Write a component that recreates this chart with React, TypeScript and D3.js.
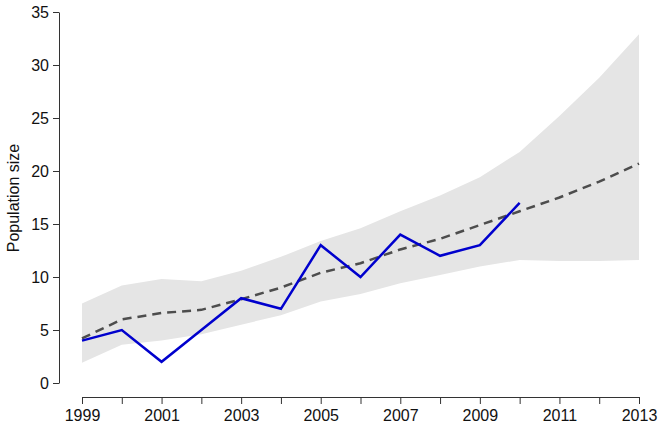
import React, { useEffect, useRef } from 'react';
import * as d3 from 'd3';

const years = [1999, 2000, 2001, 2002, 2003, 2004, 2005, 2006, 2007, 2008, 2009, 2010, 2011, 2012, 2013];
const observed = [4, 5, 2, 5, 8, 7, 13, 10, 14, 12, 13, 17];
const predicted = [4.2, 6.0, 6.6, 6.9, 7.9, 9.0, 10.4, 11.3, 12.6, 13.6, 14.9, 16.2, 17.5, 19.0, 20.7];
const upper = [7.5, 9.2, 9.8, 9.6, 10.6, 11.9, 13.4, 14.6, 16.2, 17.7, 19.4, 21.8, 25.2, 28.8, 32.9];
const lower = [1.9, 3.6, 4.0, 4.6, 5.5, 6.4, 7.7, 8.4, 9.4, 10.2, 11.0, 11.6, 11.5, 11.5, 11.6];
const yTicks = [0, 5, 10, 15, 20, 25, 30, 35];

const App = () => {
    const svgRef = useRef(null);

    useEffect(() => {
        document.body.style.margin = '0';
        const svg = d3.select(svgRef.current)
            .attr('width', 664)
            .attr('height', 429);
        svg.selectAll('*').remove();

        const x = d3.scaleLinear().domain([1999, 2013]).range([82, 639]);
        const y = d3.scaleLinear().domain([0, 35]).range([383, 12]);
        const font = 'Liberation Sans, Arial, sans-serif';

        // confidence band
        const area = d3.area()
            .x((d, i) => x(years[i]))
            .y0((d, i) => y(lower[i]))
            .y1((d, i) => y(upper[i]));
        svg.append('path')
            .datum(upper)
            .attr('d', area)
            .attr('fill', '#e5e5e5');

        // predicted mean
        const line = d3.line()
            .x((d, i) => x(years[i]))
            .y((d) => y(d));
        svg.append('path')
            .datum(predicted)
            .attr('d', line)
            .attr('fill', 'none')
            .attr('stroke', '#4d4d4d')
            .attr('stroke-width', 2.5)
            .attr('stroke-dasharray', '9,6');

        // observed counts
        svg.append('path')
            .datum(observed)
            .attr('d', line)
            .attr('fill', 'none')
            .attr('stroke', '#0000cd')
            .attr('stroke-width', 2.5)
            .attr('stroke-linejoin', 'miter');

        // y axis
        const yAxis = svg.append('g')
            .attr('transform', 'translate(59, 0)')
            .call(d3.axisLeft(y).tickValues(yTicks).tickSize(6).tickSizeOuter(0).tickPadding(4));
        yAxis.selectAll('text')
            .style('font-family', font)
            .style('font-size', '16px')
            .attr('fill', '#111');

        // x axis
        const xAxis = svg.append('g')
            .attr('transform', 'translate(0, 397)')
            .call(d3.axisBottom(x)
                .tickValues(years)
                .tickSize(7)
                .tickSizeOuter(0)
                .tickPadding(6)
                .tickFormat((d) => ((d - 1999) % 2 === 0 ? String(d) : '')));
        xAxis.selectAll('text')
            .style('font-family', font)
            .style('font-size', '16px')
            .attr('fill', '#111');

        svg.selectAll('.domain, .tick line').attr('stroke', '#333');

        svg.append('text')
            .attr('transform', 'translate(19, 198) rotate(-90)')
            .attr('text-anchor', 'middle')
            .style('font-family', font)
            .style('font-size', '16px')
            .attr('fill', '#111')
            .text('Population size');
    }, []);

    return <svg ref={svgRef}></svg>;
};

export default App;
